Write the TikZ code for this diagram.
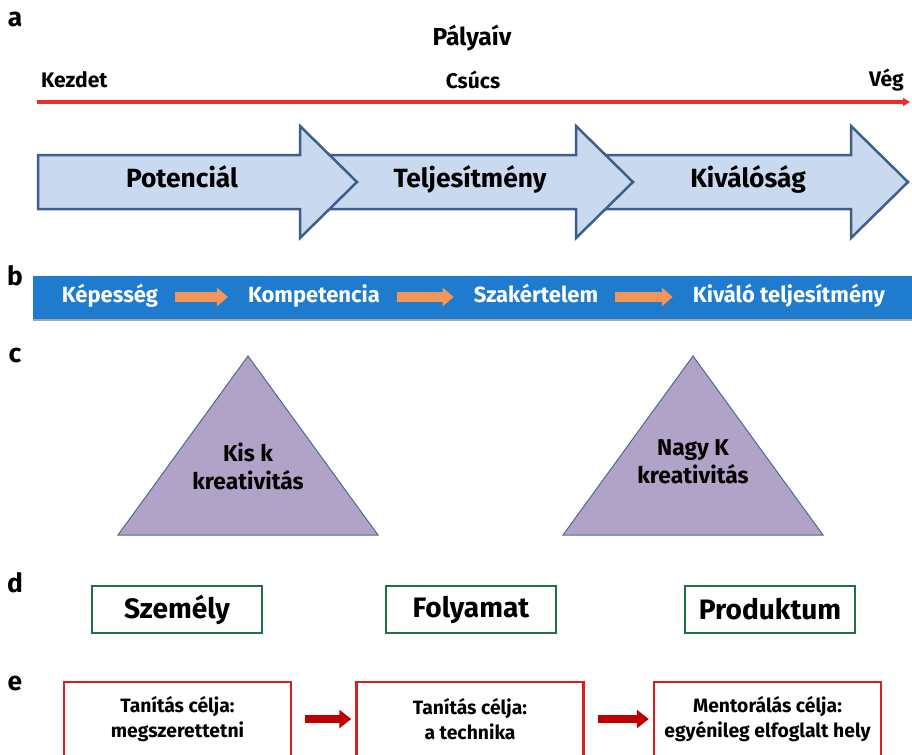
\documentclass[tikz,border=0pt]{standalone}
\usepackage{fontspec}
\setmainfont{Fira Sans}
\usetikzlibrary{arrows.meta}

\definecolor{bandblue}{HTML}{1F7BCD}
\definecolor{arrowfill}{HTML}{C9DAF0}
\definecolor{arrowline}{HTML}{3D5F8A}
\definecolor{trifill}{HTML}{B1A3C8}
\definecolor{triline}{HTML}{4B6A94}
\definecolor{boxgreen}{HTML}{1E7145}
\definecolor{boxred}{HTML}{D42020}
\definecolor{darkred}{HTML}{C00000}
\definecolor{orangearr}{HTML}{F4965A}
\definecolor{linered}{HTML}{EE2A2A}

\tikzset{
  panel/.style={font=\fontsize{15}{17}\selectfont\bfseries},
  title/.style={font=\fontsize{14}{16}\selectfont\bfseries},
  endmark/.style={font=\fontsize{12}{14}\selectfont\bfseries},
  timeline/.style={linered, line width=0.07cm, -{Triangle[length=0.14cm,width=0.16cm]}},
  bigarrow/.style={fill=arrowfill, draw=arrowline, line width=0.05cm, line join=miter},
  arrowtext/.style={font=\fontsize{15}{17}\selectfont\bfseries, text height=1.6ex, text depth=0.45ex},
  bandtext/.style={text=white, font=\fontsize{12.5}{14}\selectfont\bfseries,
    text height=1.6ex, text depth=0.45ex},
  bandarrow/.style={orangearr, line width=0.19cm, -{Triangle[length=0.22cm,width=0.36cm]},
    shorten <=0.22cm, shorten >=0.28cm},
  tri/.style={fill=trifill, draw=triline, line width=0.02cm},
  tritext/.style={align=center, font=\fontsize{13}{16}\selectfont\bfseries},
  pbox/.style={draw=boxgreen, line width=0.05cm, minimum width=3.4cm, minimum height=0.94cm,
    font=\fontsize{16}{18}\selectfont\bfseries},
  goalbox/.style={draw=boxred, line width=0.05cm, minimum width=4.54cm, minimum height=1.48cm,
    align=center, font=\fontsize{11}{14}\selectfont\bfseries},
  goalarrow/.style={darkred, line width=0.16cm, -{Triangle[length=0.24cm,width=0.36cm]},
    shorten <=0.26cm, shorten >=0.08cm}
}

\begin{document}
\begin{tikzpicture}[x=0.02cm, y=-0.02cm]
\useasboundingbox (0,0) rectangle (912,754);
\clip (0,0) rectangle (912,754);

% a
\node[panel] (la) at (15,20) {a};
\node[title] (palya) at (472,38) {Pályaív};
\node[endmark, anchor=west] (kezdet) at (35,80) {Kezdet};
\node[endmark] (csucs) at (473,80) {Csúcs};
\node[endmark, anchor=east] (veg) at (910,80) {Vég};
\coordinate (start) at (37,102);
\coordinate (end) at (910,102);
\draw[timeline] (start) -- (end);
\foreach \tip/\name/\tx/\txt in {908/kival/748/Kiválóság, 633/teljes/470/Teljesítmény, 357/poten/182/Potenciál}{
  \draw[bigarrow] (\tip-319,155) -- (\tip-57,155) -- (\tip-57,126) -- (\tip,182)
    -- (\tip-57,238) -- (\tip-57,209) -- (\tip-319,209) -- cycle;
  \node[arrowtext] (\name) at (\tx,182) {\txt};
}

% b
\node[panel] (lb) at (15,276) {b};
\fill[bandblue] (33,276) rectangle (912,320);
\draw[black!35, line width=0.03cm] (33,320) -- (912,320);
\node[bandtext] (kep) at (110,297) {Képesség};
\node[bandtext] (komp) at (314,297) {Kompetencia};
\node[bandtext] (szak) at (536,297) {Szakértelem};
\node[bandtext] (kival2) at (789,297) {Kiváló teljesítmény};
\draw[bandarrow] (kep) -- (komp);
\draw[bandarrow] (komp) -- (szak);
\draw[bandarrow] (szak) -- (kival2);

% c
\node[panel] (lc) at (15,355) {c};
\draw[tri] (248,356) -- (378,535) -- (118,535) -- cycle;
\node[tritext] (kisk) at (248,466) {Kis k\\kreativitás};
\draw[tri] (693,356) -- (823,535) -- (563,535) -- cycle;
\node[tritext] (nagyk) at (693,462) {Nagy K\\kreativitás};

% d
\node[panel] (ld) at (15,583) {d};
\node[pbox] (szemely) at (177,609.5) {Személy};
\node[pbox] (folyamat) at (471,609.5) {Folyamat};
\node[pbox] (produktum) at (770,609.5) {Produktum};

% e
\node[panel] (le) at (15,683) {e};
\node[goalbox] (cel1) at (177.5,719) {Tanítás célja:\\megszerettetni};
\node[goalbox] (cel2) at (470,719) {Tanítás célja:\\a technika};
\node[goalbox] (cel3) at (767.5,719) {Mentorálás célja:\\egyénileg elfoglalt hely};
\draw[goalarrow] (cel1) -- (cel2);
\draw[goalarrow] (cel2) -- (cel3);
\end{tikzpicture}
\end{document}
